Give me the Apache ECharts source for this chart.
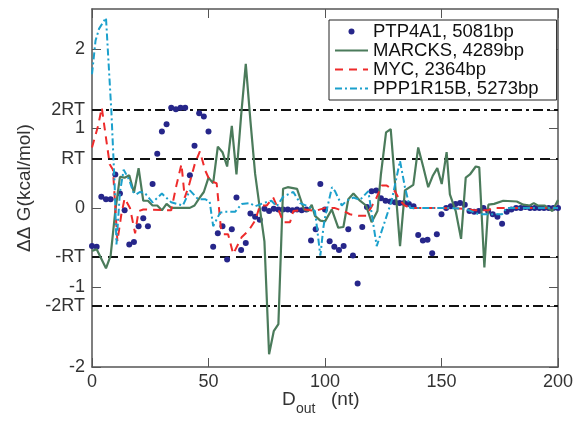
<!DOCTYPE html>
<html>
<head>
<meta charset="utf-8">
<script src="https://cdn.jsdelivr.net/npm/echarts@6/dist/echarts.min.js"></script>
<style>
  html, body { margin: 0; padding: 0; background: #fff; }
  #chart { width: 576px; height: 421px; }
</style>
</head>
<body>
<div id="chart"></div>
<script>
var RT = 0.616;

// PTP4A1, one dot every 2 nt
var ptpX = [0,2,4,6,8,10,12,14,16,18,20,22,24,26,28,30,32,34,36,38,40,42,44,46,48,50,
  52,54,56,58,60,62,64,66,68,70,72,74,76,78,80,82,84,86,88,90,92,94,96,98,100,
  102,104,106,108,110,112,114,116,118,120,122,124,126,128,130,132,134,136,138,140,
  142,144,146,148,150,152,154,156,158,160,162,164,166,168,170,172,174,176,178,180,
  182,184,186,188,190,192,194,196,198,200];
var ptpY = [-0.48,-0.49,0.14,0.11,0.11,0.42,0.18,-0.03,-0.46,-0.43,-0.23,-0.13,-0.23,0.30,0.68,0.96,1.05,1.26,1.24,1.26,1.26,0.41,0.78,1.19,1.15,0.96,
  -0.49,-0.32,-0.23,-0.65,-0.27,0.13,-0.53,-0.44,-0.07,-0.11,-0.15,-0.01,-0.04,-0.01,-0.02,-0.02,-0.02,-0.03,-0.02,-0.03,-0.02,-0.41,-0.27,0.30,-0.02,
  -0.42,-0.49,-0.53,-0.48,-0.27,-0.60,-0.95,-0.24,0.01,0.21,0.22,0.12,0.09,0.08,0.07,0.06,0.06,0.05,0.02,-0.34,
  -0.41,-0.40,-0.57,-0.33,-0.08,0.00,0.02,0.05,0.06,0.04,-0.04,-0.05,-0.04,0.00,-0.04,-0.08,-0.11,-0.20,-0.05,-0.02,
  0.00,0.00,0.01,0.00,0.00,0.00,0.00,0.00,0.00,0.00];

// MARCKS
var marcksX = [0,2,6,8,10,12,14,16,18,20,22,24,26,28,30,32,34,40,42,44,46,48,50,52,54,56,58,60,62,64,66,68,70,72,74,76,78,80,
  82,84,88,91,92.8,94.3,95.7,98,100,102.9,105.7,107.9,110,112.2,115,117.6,120,122.5,124,126.2,128.2,132.2,134.3,137.9,140,142.2,
  144.3,146.2,148.2,150.1,152.2,153.6,156.1,158.4,160.4,162.2,164.7,166.2,168.4,170.1,172.6,176.5,182.3,185.1,187.9,189.6,191.3,194.2,197.6,200];
var marcksY = [-0.54,-0.52,-0.76,-0.60,-0.04,0.39,0.38,0.41,0.19,0.50,0.09,0.09,0.03,0.03,-0.03,0.05,0.00,0.00,0.00,0.03,0.12,0.20,0.38,0.31,0.77,0.70,0.52,1.03,0.42,1.16,1.81,1.09,0.43,0.00,-0.42,-1.84,-1.55,-1.46,
  0.24,0.26,0.24,-0.02,-0.04,0.04,-0.10,-0.16,-0.17,-0.02,-0.25,-0.24,0.11,0.18,0.09,0.03,-0.18,-0.04,0.42,0.95,0.99,-0.48,0.22,0.29,0.76,0.51,
  0.26,0.40,0.50,0.30,0.70,0.17,-0.04,-0.39,0.38,0.42,0.52,0.51,-0.75,0.04,0.05,0.09,0.08,0.04,0.03,0.06,0.03,0.03,-0.04,0.10];

// MYC
var mycX = [0,2.6,4.2,6.2,7.6,9,10.9,12.6,14,16.3,18.5,20,22,34,36.2,38.4,39.8,41.5,44.1,46.3,48.6,50.6,53.5,55.3,56.4,58.4,60.6,64.2,67.1,70,
  72.1,75,77.8,80,82.1,85,86.4,91.4,95.7,100,104,108,110.7,114.3,117.9,119.3,122,124.3,126.5,130,132.2,134.3,136.5,150,160,164,170,172,200];
var mycY = [0.76,1.03,1.26,0.84,0.55,0.48,-0.42,-0.08,0.12,0.00,-0.32,-0.04,-0.02,-0.03,0.28,0.55,0.13,0.27,0.55,0.71,0.47,0.34,0.31,-0.25,-0.33,-0.33,-0.58,-0.37,-0.29,-0.16,
  0.03,0.03,0.13,-0.02,-0.18,-0.18,-0.04,-0.02,-0.04,0.00,0.00,-0.04,-0.08,-0.10,-0.10,-0.02,0.12,0.28,0.28,0.21,0.09,0.03,0.00,0.00,-0.01,-0.03,-0.03,0.00,0.00];

// PPP1R15B
var pppX = [0,1.5,3,6,8.3,9.7,10.5,12,13.6,16,17.7,19,20.5,22.6,26,30,34,39,42,45.5,48.5,50.5,52,55,57,61.4,64.2,67.8,70,73.5,77,79.3,82,86.4,89.3,92.8,95.7,
  98,99.3,100,103,104.3,107.2,109.3,112.2,115,118.6,120.7,122.2,125.8,128.6,132.2,134.3,136.5,150,160,166,176,178,200];
var pppY = [1.68,2.10,2.25,2.39,1.22,0.30,-0.46,0.20,0.48,0.35,0.20,0.17,0.20,0.19,0.07,0.18,0.07,0.03,0.22,0.11,0.11,0.08,-0.23,-0.06,-0.05,-0.05,0.05,0.06,0.02,0.06,0.09,0.02,0.14,0.20,0.06,0.02,-0.04,
  -0.60,-0.25,-0.12,0.26,0.21,0.03,0.09,0.13,0.10,0.21,-0.20,-0.48,-0.16,0.09,0.59,0.26,0.00,0.00,-0.01,-0.08,-0.08,0.00,0.00];

var seriesNames = ['PTP4A1, 5081bp', 'MARCKS, 4289bp', 'MYC, 2364bp', 'PPP1R15B, 5273bp'];
var seriesColors = ['#26268a', '#4b7b5b', '#ee2b2b', '#1ba0cc'];

var xTicks = [0, 50, 100, 150, 200];
var yTicks = [-2, -2 * RT, -1, -RT, 0, RT, 1, 2 * RT, 2];
var yTickLabels = ['-2', '-2RT', '-1', '-RT', '0', 'RT', '1', '2RT', '2'];

function pairs(xs, ys) {
  var out = [];
  for (var i = 0; i < xs.length; i++) out.push([xs[i], ys[i]]);
  return out;
}

var font = "'Liberation Sans', Arial, Helvetica, sans-serif";
var axisColor = '#555';
var labelColor = '#333';

var chart = echarts.init(document.getElementById('chart'));

var option = {
  animation: false,
  textStyle: { fontFamily: font },
  grid: { left: 92, right: 18, top: 9, bottom: 54, containLabel: false, outerBoundsMode: 'none' },
  legend: {
    left: 329,
    top: 20,
    orient: 'vertical',
    backgroundColor: '#fff',
    borderColor: '#222',
    borderWidth: 1,
    borderRadius: 0,
    padding: [2, 18, 2, 5],
    itemGap: 0,
    itemWidth: 33,
    itemHeight: 6,
    itemTextGap: 4,
    textStyle: { fontSize: 18.5, color: '#111', lineHeight: 18.5, fontFamily: font },
    data: [
      { name: seriesNames[0], icon: 'circle' },
      { name: seriesNames[1], itemStyle: { opacity: 0 } },
      { name: seriesNames[2], itemStyle: { opacity: 0 } },
      { name: seriesNames[3], itemStyle: { opacity: 0 } }
    ]
  },
  graphic: [
    { type: 'text', left: 282, top: 390, style: { text: 'D', font: '19px ' + font, fill: labelColor } },
    { type: 'text', left: 296, top: 402, style: { text: 'out', font: '14px ' + font, fill: labelColor } },
    { type: 'text', left: 331, top: 390, style: { text: '(nt)', font: '19px ' + font, fill: labelColor } }
  ],
  xAxis: [
    {
      type: 'value', min: 0, max: 200, interval: 50, position: 'bottom',
      axisLine: { show: true, onZero: false, lineStyle: { color: axisColor, width: 1.5 } },
      axisTick: { show: true, inside: true, length: 9, lineStyle: { color: axisColor } },
      axisLabel: { fontSize: 18, color: labelColor, margin: 6 },
      splitLine: { show: false }
    },
    {
      type: 'value', min: 0, max: 200, interval: 50, position: 'top',
      axisLine: { show: true, onZero: false, lineStyle: { color: axisColor, width: 1.5 } },
      axisTick: { show: true, inside: true, length: 9, lineStyle: { color: axisColor } },
      axisLabel: { show: false },
      splitLine: { show: false }
    }
  ],
  yAxis: [
    {
      type: 'value', min: -2, max: 2.5, position: 'left',
      name: 'ΔΔ G(kcal/mol)',
      nameLocation: 'middle',
      nameGap: 58,
      nameTextStyle: { fontSize: 19, color: labelColor },
      axisLine: { show: true, onZero: false, lineStyle: { color: axisColor, width: 1.5 } },
      axisTick: { show: true, inside: true, length: 9, customValues: yTicks, lineStyle: { color: axisColor } },
      axisLabel: {
        customValues: yTicks,
        fontSize: 18, color: labelColor, margin: 7,
        formatter: function (v) {
          for (var i = 0; i < yTicks.length; i++) {
            if (Math.abs(v - yTicks[i]) < 1e-6) return yTickLabels[i];
          }
          return '';
        }
      },
      splitLine: { show: false }
    },
    {
      type: 'value', min: -2, max: 2.5, position: 'right',
      axisLine: { show: true, onZero: false, lineStyle: { color: axisColor, width: 1.5 } },
      axisTick: { show: true, inside: true, length: 9, customValues: yTicks, lineStyle: { color: axisColor } },
      axisLabel: { show: false },
      splitLine: { show: false }
    }
  ],
  series: [
    {
      name: seriesNames[0],
      type: 'scatter',
      data: pairs(ptpX, ptpY),
      symbol: 'circle',
      symbolSize: 6,
      itemStyle: { color: seriesColors[0], opacity: 1 },
      z: 3,
      markLine: {
        silent: true,
        symbol: 'none',
        label: { show: false },
        z: 1,
        data: [
          { yAxis: 2 * RT, lineStyle: { color: '#111', width: 1.8, type: [10, 4, 3, 4] } },
          { yAxis: RT, lineStyle: { color: '#111', width: 2, type: [10, 6] } },
          { yAxis: -RT, lineStyle: { color: '#111', width: 2, type: [10, 6] } },
          { yAxis: -2 * RT, lineStyle: { color: '#111', width: 1.8, type: [10, 4, 3, 4] } }
        ]
      }
    },
    {
      name: seriesNames[1],
      type: 'line',
      data: pairs(marcksX, marcksY),
      symbol: 'none',
      lineStyle: { color: seriesColors[1], width: 2.2 },
      itemStyle: { color: seriesColors[1] },
      z: 4
    },
    {
      name: seriesNames[2],
      type: 'line',
      data: pairs(mycX, mycY),
      symbol: 'none',
      lineStyle: { color: seriesColors[2], width: 2, type: [8, 6] },
      itemStyle: { color: seriesColors[2] },
      z: 5
    },
    {
      name: seriesNames[3],
      type: 'line',
      data: pairs(pppX, pppY),
      symbol: 'none',
      lineStyle: { color: seriesColors[3], width: 2, type: [7, 3, 2, 3] },
      itemStyle: { color: seriesColors[3] },
      z: 6
    }
  ]
};

chart.setOption(option);
</script>
</body>
</html>
